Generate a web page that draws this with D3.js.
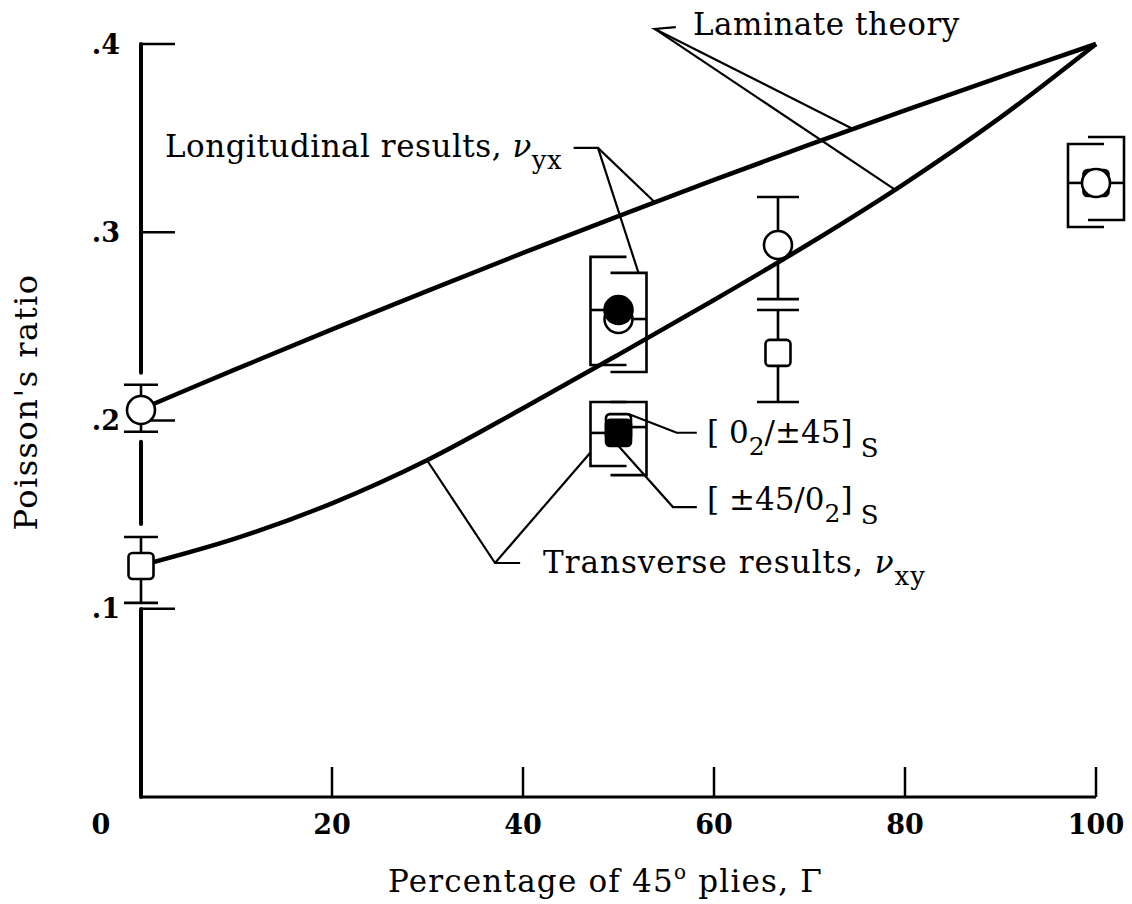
<!DOCTYPE html>
<html><head><meta charset="utf-8">
<script src="https://cdn.jsdelivr.net/npm/d3@7"></script>
<style>body{margin:0;background:#fff}svg{display:block}text{font-family:"DejaVu Serif",serif;fill:#000}</style>
</head><body>
<svg id="c" width="1132" height="904"></svg>
<script>
// ---------- data ----------
const xTicks = [0, 20, 40, 60, 80, 100];
const xTickLabels = ["0", "20", "40", "60", "80", "100"];
const yTicks = [0.1, 0.2, 0.3, 0.4];
const yTickLabels = [".1", ".2", ".3", ".4"];

// laminate theory curves
const lamX     = [0, 10, 20, 30, 40, 50, 60, 70, 80, 90, 100];
const lamNuYX  = [0.206, 0.2274, 0.2484, 0.2689, 0.289, 0.3086, 0.3278, 0.3465, 0.3648, 0.3826, 0.400];
const lamNuXY  = [0.123, 0.1375, 0.156, 0.179, 0.2065, 0.235, 0.264, 0.294, 0.326, 0.361, 0.400];

// longitudinal results (circles), nu_yx
const longX     = [0, 50, 50, 66.7, 100];
const longV     = [0.2056, 0.2539, 0.2587, 0.2932, 0.3262];
const longLo    = [0.194, 0.2258, 0.2295, 0.2645, 0.3028];
const longHi    = [0.219, 0.2784, 0.2869, 0.3187, 0.3469];
const longFill  = [false, false, true, false, false];   // filled = [±45/02]s
const longBar   = ["center", "right", "left", "center", "left"];

// transverse results (squares), nu_xy
const transX    = [0, 50, 50, 66.7, 100];
const transV    = [0.1227, 0.1965, 0.1934, 0.2359, 0.3262];
const transLo   = [0.1031, 0.1710, 0.1758, 0.2098, 0.3065];
const transHi   = [0.1381, 0.2098, 0.2098, 0.2587, 0.3506];
const transFill = [false, false, true, false, false];
const transBar  = ["center", "right", "left", "center", "right"];

// ---------- setup ----------
const svg = d3.select("#c");
const x = d3.scaleLinear().domain([0, 100]).range([141, 1096]);
const y = d3.scaleLinear().domain([0, 0.4]).range([797, 44]);
const FS = 31, LS = 0.5;

const interp = (xs, vs, xv) => {
  for (let i = 1; i < xs.length; i++) if (xv <= xs[i]) {
    const t = (xv - xs[i-1]) / (xs[i] - xs[i-1]); return vs[i-1] + t * (vs[i] - vs[i-1]);
  }
  return vs[vs.length-1];
};

const gAxes = svg.append("g");
const gLines = svg.append("g");
const gMarks = svg.append("g");
const gText = svg.append("g");

// ---------- axes ----------
const ax = x(0);
const gaps = [[y(longHi[0]) - 12, y(longLo[0]) + 10], [y(transHi[0]) - 13, y(transLo[0]) + 6]];
let segs = [], start = y(0.4);
gaps.forEach(g => { segs.push([start, g[0]]); start = g[1]; });
segs.push([start, y(0)]);
gAxes.selectAll("line.ya").data(segs).join("line")
  .attr("x1", ax).attr("x2", ax).attr("y1", d => d[0]).attr("y2", d => d[1])
  .attr("stroke", "#000").attr("stroke-width", 4).attr("stroke-linecap", "round");
gAxes.append("line").attr("x1", ax).attr("x2", x(100)).attr("y1", y(0)).attr("y2", y(0))
  .attr("stroke", "#000").attr("stroke-width", 3);
gAxes.selectAll("line.yt").data(yTicks).join("line")
  .attr("x1", ax).attr("x2", ax + 34).attr("y1", d => y(d)).attr("y2", d => y(d))
  .attr("stroke", "#000").attr("stroke-width", 2.5);
gAxes.selectAll("line.xt").data(xTicks.filter(d => d > 0)).join("line")
  .attr("x1", d => x(d)).attr("x2", d => x(d)).attr("y1", y(0)).attr("y2", y(0) - 30)
  .attr("stroke", "#000").attr("stroke-width", 2.5);
gText.selectAll("text.yl").data(yTicks).join("text")
  .attr("x", 120).attr("y", d => y(d)).attr("dy", "0.36em").attr("text-anchor", "end")
  .attr("font-size", 27).attr("font-weight", "bold").text((d, i) => yTickLabels[i]);
gText.selectAll("text.xl").data(xTicks).join("text")
  .attr("x", d => x(d)).attr("dx", d => d === 0 ? -40 : 0).attr("y", 834).attr("text-anchor", "middle")
  .attr("font-size", 27).attr("font-weight", "bold").text((d, i) => xTickLabels[i]);
const xt = gText.append("text").attr("x", 388).attr("y", 892).attr("font-size", FS).attr("letter-spacing", 1.2);
xt.append("tspan").text("Percentage of 45");
xt.append("tspan").attr("font-size", 20).attr("dy", -13).text("o");
xt.append("tspan").attr("dy", 13).text(" plies, Γ");
gText.append("text").attr("transform", "translate(37,402) rotate(-90)").attr("text-anchor", "middle")
  .attr("font-size", 32).attr("letter-spacing", 1.5).text("Poisson's ratio");

// ---------- theory curves ----------
const line = d3.line().x(d => x(d[0])).y(d => y(d[1])).curve(d3.curveCatmullRom);
[lamNuYX, lamNuXY].forEach(vs => {
  gLines.append("path").attr("d", line(lamX.map((xv, i) => [xv, vs[i]])))
    .attr("fill", "none").attr("stroke", "#000").attr("stroke-width", 4.5).attr("stroke-linejoin", "round");
});

// ---------- error bars + markers ----------
function drawSeries(X, V, Lo, Hi, Fill, Bar, shape) {
  X.forEach((xv, i) => {
    const cx = x(xv), cy = y(V[i]), yl = y(Lo[i]), yh = y(Hi[i]);
    const g = gMarks.append("g");
    const st = s => s.attr("stroke", "#000").attr("stroke-width", 2.6).attr("fill", "none");
    if (Bar[i] === "center") {
      const cw = xv === 0 ? 17 : 21;
      st(g.append("line").attr("x1", cx).attr("x2", cx).attr("y1", yh).attr("y2", yl));
      st(g.append("line").attr("x1", cx - cw).attr("x2", cx + cw).attr("y1", yh).attr("y2", yh));
      st(g.append("line").attr("x1", cx - cw).attr("x2", cx + cw).attr("y1", yl).attr("y2", yl));
    } else {
      const s = Bar[i] === "left" ? -1 : 1, bx = cx + s * 28, ex = cx - s * 8;
      st(g.append("path").attr("d", `M${ex},${yh}H${bx}V${yl}H${ex}`));
      st(g.append("line").attr("x1", bx).attr("x2", cx).attr("y1", cy).attr("y2", cy));
    }
  });
  X.forEach((xv, i) => {
    const cx = x(xv), cy = y(V[i]);
    const f = Fill[i] ? "#000" : "#fff";
    if (shape === "circle") {
      gMarks.append("circle").attr("cx", cx).attr("cy", cy).attr("r", 14)
        .attr("fill", f).attr("stroke", "#000").attr("stroke-width", 2.6);
    } else {
      gMarks.append("rect").attr("x", cx - 12.5).attr("y", cy - 13).attr("width", 25).attr("height", 26)
        .attr("rx", 4).attr("fill", f).attr("stroke", "#000").attr("stroke-width", 2.6);
    }
  });
}
drawSeries(transX, transV, transLo, transHi, transFill, transBar, "square");
drawSeries(longX, longV, longLo, longHi, longFill, longBar, "circle");

// ---------- annotations ----------
const leader = (pts, w) => gLines.append("path").attr("d", d3.line()(pts))
  .attr("fill", "none").attr("stroke", "#000").attr("stroke-width", w || 2.2);

// Laminate theory
const lo = [x(53.8), y(0.408)];
leader([[x(56.0), y(0.409)], lo, [x(74.55), y(interp(lamX, lamNuYX, 74.55))]]);
leader([lo, [x(78.95), y(interp(lamX, lamNuXY, 78.95))]]);
gText.append("text").attr("x", 693).attr("y", 35).attr("font-size", FS).attr("letter-spacing", LS).text("Laminate theory");

// Longitudinal results
const lg = [x(47.85), y(0.3448)];
leader([[x(45.3), y(0.3448)], lg, [x(53.8), y(interp(lamX, lamNuYX, 53.8))]]);
leader([lg, [x(50) + 20, y(longHi[1])]]);
const lt = gText.append("text").attr("x", 165).attr("y", 157).attr("font-size", FS).attr("letter-spacing", LS);
lt.append("tspan").text("Longitudinal results, ");
lt.append("tspan").attr("font-style", "italic").text("ν");
lt.append("tspan").attr("font-size", 26).attr("dy", 12).text("yx");

// Transverse results
const tg = [x(37.07), y(0.1243)];
leader([[x(29.95), y(interp(lamX, lamNuXY, 29.95))], tg, [x(39.7), y(0.1243)]]);
leader([tg, [x(50) - 28, y(0.183)]]);
const tt = gText.append("text").attr("x", 543).attr("y", 573).attr("font-size", FS).attr("letter-spacing", 1);
tt.append("tspan").text("Transverse results, ");
tt.append("tspan").attr("font-style", "italic").text("ν");
tt.append("tspan").attr("font-size", 26).attr("dy", 12).text("xy");

// layup labels
const l1 = [x(56.1), y(0.1935)];
leader([[x(50) + 10, y(transV[1]) - 13], l1, [x(58.2), y(0.1935)]]);
const t1 = gText.append("text").attr("x", 707).attr("y", 443).attr("font-size", FS);
t1.append("tspan").text("[ 0");
t1.append("tspan").attr("font-size", 25).attr("dy", 12).text("2");
t1.append("tspan").attr("dy", -12).text("/±45]");
t1.append("tspan").attr("font-size", 26).attr("dy", 14).text(" S");

const l2 = [x(55.7), y(0.1540)];
leader([[x(50), y(transV[2]) + 13], l2, [x(58.2), y(0.1540)]]);
const t2 = gText.append("text").attr("x", 707).attr("y", 510).attr("font-size", FS);
t2.append("tspan").text("[ ±45/0");
t2.append("tspan").attr("font-size", 25).attr("dy", 12).text("2");
t2.append("tspan").attr("dy", -12).text("]");
t2.append("tspan").attr("font-size", 26).attr("dy", 14).text(" S");
</script>
</body></html>
